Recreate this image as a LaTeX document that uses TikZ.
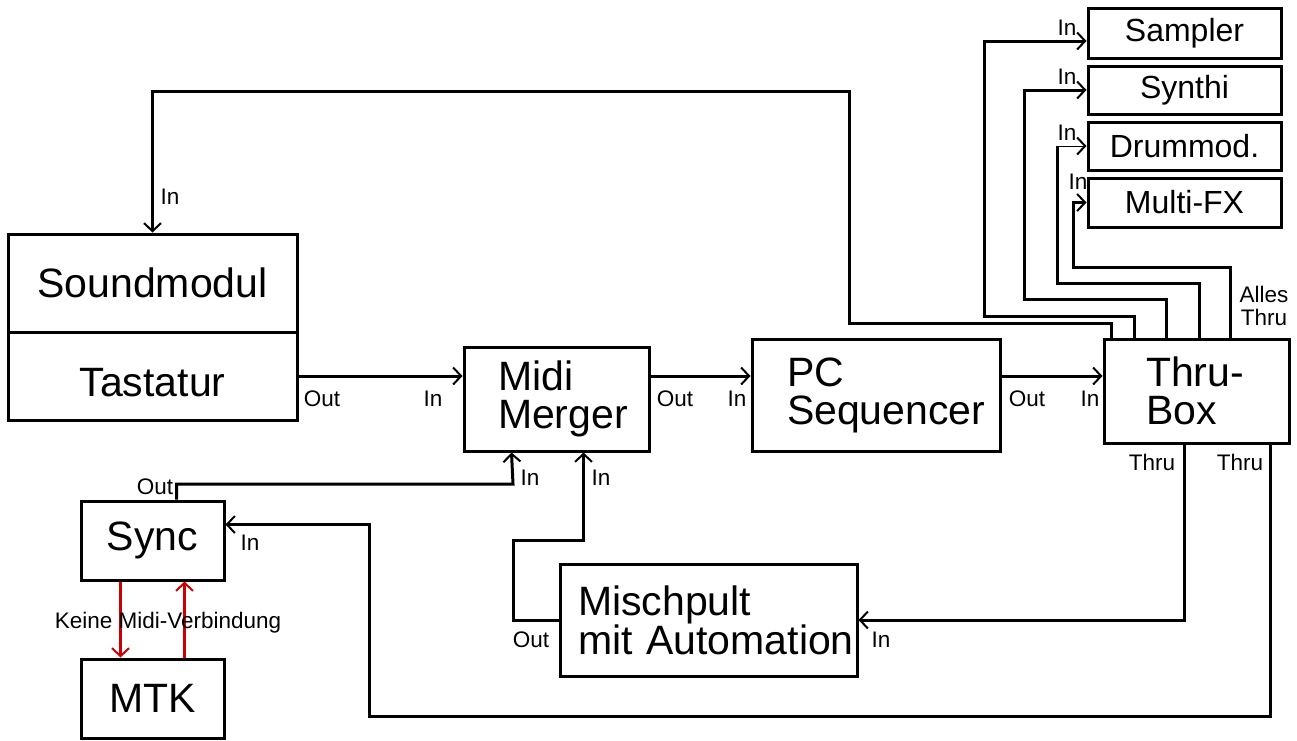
\documentclass[tikz,border=0pt]{standalone}
\usepackage{fontspec}
\setmainfont{Liberation Sans}
\usetikzlibrary{arrows.meta}
\hyphenpenalty=10000

\begin{document}
\begin{tikzpicture}[x=1pt, y=-1pt, >={Straight Barb[length=8pt,width=17pt,line width=2pt]},
  box/.style={draw, line width=3pt, inner sep=0pt, font=\fontsize{41}{38}\selectfont},
  smallbox/.style={draw, line width=3pt, inner sep=0pt, minimum width=193, font=\fontsize{32}{34}\selectfont},
  wire/.style={line width=3pt},
  redwire/.style={line width=3pt, linkred},
  port/.style={font=\fontsize{22.5}{23}\selectfont, inner sep=0pt}]

\definecolor{linkred}{RGB}{204, 0, 0}

\useasboundingbox (0,0) rectangle (1297,740);

\node[box, minimum width=289, minimum height=98] (sound) at (152.5,283) {Soundmodul};
\node[box, minimum width=289, minimum height=88, text height=42] (tast) at (152.5,376) {Tastatur};
\node[box, align=left, text width=117, inner xsep=34, minimum height=104] (merger) at (556.5,399) {Midi\\Merger};
\node[box, align=left, text width=178, inner xsep=35, minimum height=112] (pcseq) at (876,395) {PC\\Sequencer};
\node[box, align=left, text width=101, inner xsep=42, minimum height=104] (thru) at (1196.5,391) {Thru-\\Box};
\node[box, align=left, text width=261, inner xsep=18, minimum height=112] (misch) at (708.5,620) {Mischpult\\mit~Automation};
\node[box, minimum width=143, minimum height=79] (sync) at (152.5,540.5) {Sync};
\node[box, minimum width=143, minimum height=79] (mtk) at (152.5,698.5) {MTK};

\node[smallbox, minimum height=50] (sampler) at (1184.5,33) {Sampler};
\node[smallbox, minimum height=48] (synthi) at (1184.5,90) {Synthi};
\node[smallbox, minimum height=48] (drum) at (1184.5,146) {Drummod.};
\node[smallbox, minimum height=49] (fx) at (1184.5,202.5) {Multi-FX};

\draw[wire,->] (tast.east) -- (tast.east -| merger.west);
\draw[wire,->] (merger.east |- tast.east) -- (tast.east -| pcseq.west);
\draw[wire,->] (pcseq.east |- tast.east) -- (tast.east -| thru.west);

\draw[wire,->] ([xshift=9]thru.north west) |- (849,323) -- (849,91) -| (sound.north);
\draw[wire,->] ([xshift=32]thru.north west) |- (984,316) |- ([yshift=-8]sampler.west);
\draw[wire,->] ([xshift=64]thru.north west) |- (1024,299) |- (synthi.west);
\coordinate (drumbend) at (1057,146);
\draw[wire] ([xshift=97]thru.north west) |- (1057,283) -- (drumbend);
\draw[line width=1pt,->] (drumbend) -- (drum.west);
\draw[wire,->] ([xshift=128]thru.north west) |- (1073,267) |- (fx.west);

\draw[wire,->] ([xshift=82]thru.south west) |- (misch.east);
\draw[wire,->] ([xshift=168]thru.south west) |- (369,716) |- ([yshift=16]sync.east);
\draw[wire,->] ([xshift=24]sync.north) |- (513,484) -- ([xshift=49]merger.south west);
\draw[wire,->] (misch.west) -| (513,540) -| ([xshift=121]merger.south west);

\draw[redwire,->] ([xshift=-32]sync.south) -- ([xshift=-32]mtk.north);
\draw[redwire,->] ([xshift=32]mtk.north) -- ([xshift=32]sync.south);

\node[port] (soundin) at (170,197) {In};
\node[port] (tastout) at (322,399) {Out};
\node[port] (mergerin) at (433,399) {In};
\node[port] (mergerout) at (675,399) {Out};
\node[port] (pcin) at (737,399) {In};
\node[port] (pcout) at (1027,399) {Out};
\node[port] (thruin) at (1090,399) {In};
\node[port] (samplerin) at (1067,28) {In};
\node[port] (synthiin) at (1067,77) {In};
\node[port] (drumin) at (1067,133) {In};
\node[port] (fxin) at (1078,182) {In};
\node[port, align=center] (allesthru) at (1264,306) {Alles\\Thru};
\node[port] (thruleft) at (1152,462) {Thru};
\node[port] (thruright) at (1240,462) {Thru};
\node[port] (syncout) at (155,487) {Out};
\node[port] (syncin) at (250,543) {In};
\node[port] (mergerinb) at (530,478) {In};
\node[port] (mergerinc) at (601,478) {In};
\node[port] (mischout) at (531,640) {Out};
\node[port] (mischin) at (881,640) {In};
\node[port] (keine) at (168,623) {Keine Midi-Verbindung};

\end{tikzpicture}
\end{document}
